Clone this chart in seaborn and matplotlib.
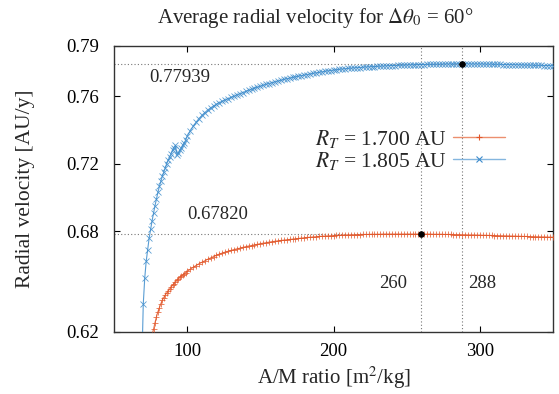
import matplotlib
matplotlib.use("Agg")
import matplotlib.pyplot as plt
from matplotlib.lines import Line2D
import numpy as np
import pandas as pd
import seaborn as sns

# A/M ratio samples [m^2/kg]
x_dense = list(range(69, 100))
x_coarse = list(range(100, 351, 2))

# R_T = 1.805 AU (blue)
v_blue_dense = [0.600, 0.6366, 0.652, 0.662, 0.669, 0.6757, 0.681, 0.686, 0.6906, 0.695,
                0.699, 0.703, 0.7065, 0.7095, 0.7125, 0.715, 0.7175, 0.720, 0.722, 0.724,
                0.726, 0.728, 0.7295, 0.731, 0.7255, 0.7265, 0.728, 0.7295, 0.731, 0.7325,
                0.734]
v_blue_coarse = [0.7365, 0.7395, 0.7422, 0.7446, 0.7468, 0.7487, 0.7504, 0.7519, 0.7532, 0.7544,
                 0.7554, 0.7563, 0.7571, 0.7579, 0.7587, 0.7594, 0.7601, 0.7609, 0.7616, 0.7623,
                 0.7630, 0.7637, 0.7643, 0.7649, 0.7655, 0.7661, 0.7667, 0.7672, 0.7677, 0.7682,
                 0.7687, 0.7692, 0.7696, 0.7701, 0.7705, 0.7709, 0.7713, 0.7717, 0.7720, 0.7724,
                 0.7727, 0.7730, 0.7734, 0.7737, 0.7740, 0.7743, 0.7746, 0.7749, 0.7752, 0.7754,
                 0.7757, 0.7759, 0.7761, 0.7763, 0.7765, 0.7767, 0.7768, 0.7770, 0.7771, 0.7772,
                 0.7774, 0.7775, 0.7776, 0.7777, 0.7778, 0.7779, 0.7780, 0.7781, 0.7782, 0.7783,
                 0.7784, 0.7784, 0.7785, 0.7786, 0.7786, 0.7787, 0.7788, 0.7788, 0.7789, 0.7789,
                 0.7790, 0.7790, 0.7791, 0.7791, 0.7791, 0.7792, 0.7792, 0.7792, 0.7793, 0.7793,
                 0.7793, 0.7793, 0.7794, 0.7794, 0.77939, 0.7794, 0.7794, 0.7793, 0.7793, 0.7793,
                 0.7793, 0.7793, 0.7792, 0.7792, 0.7792, 0.7791, 0.7791, 0.7791, 0.7790, 0.7790,
                 0.7789, 0.7789, 0.7789, 0.7788, 0.7788, 0.7787, 0.7787, 0.7786, 0.7786, 0.7785,
                 0.7785, 0.7785, 0.7784, 0.7784, 0.7783, 0.7783]

# R_T = 1.700 AU (red), starts at x = 76
v_red_dense = [0.6185, 0.6215, 0.6255, 0.629, 0.632, 0.6345, 0.6368, 0.6389, 0.6405, 0.642,
               0.6432, 0.6443, 0.6455, 0.6467, 0.6478, 0.6488, 0.6498, 0.6507, 0.6516, 0.6524,
               0.6532, 0.6539, 0.6546, 0.6553]
v_red_coarse = [0.6560, 0.6572, 0.6584, 0.6595, 0.6605, 0.6614, 0.6623, 0.6632, 0.6640, 0.6648,
                0.6656, 0.6663, 0.6669, 0.6675, 0.6680, 0.6685, 0.6690, 0.6694, 0.6698, 0.6703,
                0.6707, 0.6711, 0.6714, 0.6718, 0.6721, 0.6725, 0.6728, 0.6731, 0.6734, 0.6737,
                0.6739, 0.6742, 0.6744, 0.6746, 0.6748, 0.6750, 0.6752, 0.6754, 0.6756, 0.6758,
                0.6760, 0.6762, 0.6763, 0.6765, 0.6766, 0.6768, 0.6769, 0.6770, 0.6771, 0.6772,
                0.6773, 0.6774, 0.6775, 0.6776, 0.6777, 0.6777, 0.6778, 0.6778, 0.6779, 0.6779,
                0.6780, 0.6780, 0.6780, 0.6781, 0.6781, 0.6781, 0.6781, 0.6782, 0.6782, 0.6782,
                0.6782, 0.6782, 0.6782, 0.6782, 0.6782, 0.6782, 0.6782, 0.6782, 0.6782, 0.6782,
                0.67820, 0.6782, 0.6782, 0.6782, 0.6781, 0.6781, 0.6781, 0.6781, 0.6780, 0.6780,
                0.6780, 0.6779, 0.6779, 0.6779, 0.6778, 0.6778, 0.6777, 0.6777, 0.6777, 0.6776,
                0.6776, 0.6775, 0.6775, 0.6774, 0.6774, 0.6773, 0.6773, 0.6772, 0.6772, 0.6771,
                0.6771, 0.6770, 0.6770, 0.6769, 0.6769, 0.6768, 0.6768, 0.6767, 0.6767, 0.6766,
                0.6766, 0.6765, 0.6765, 0.6764, 0.6764, 0.6763]

max_x = [260, 288]
max_v = [0.67820, 0.77939]
max_labels = ["0.67820", "0.77939"]
x_ticks = [100, 200, 300]
y_ticks = [0.62, 0.68, 0.72, 0.76, 0.79]
series_labels = [r"$R_T$ = 1.700 AU", r"$R_T$ = 1.805 AU"]

blue_df = pd.DataFrame({"x": x_dense + x_coarse, "v": v_blue_dense + v_blue_coarse})
red_df = pd.DataFrame({"x": list(range(76, 100)) + x_coarse, "v": v_red_dense + v_red_coarse})

sns.set_style("ticks")
plt.rcParams["font.family"] = ["Liberation Serif", "DejaVu Serif"]
plt.rcParams["mathtext.fontset"] = "stix"

red = "#e2572a"
blue = "#3d8ccc"

fig = plt.figure(figsize=(5.59, 3.94), dpi=100)
ax = fig.add_axes([114 / 559, 1 - 332 / 394, (553 - 114) / 559, (332 - 46) / 394])

# reference lines
for xm, vm in zip(max_x, max_v):
    ax.plot([xm, xm], [0.62, 0.79], ls=(0, (1, 2)), color="#777777", lw=0.8, zorder=1)
    ax.plot([50, xm], [vm, vm], ls=(0, (1, 2)), color="#777777", lw=0.8, zorder=1)

sns.lineplot(data=red_df, x="x", y="v", ax=ax, sort=False, color=red, lw=0.8,
             marker="+", markersize=5, markeredgewidth=0.6, markeredgecolor=red,
             alpha=0.85, zorder=3)
sns.lineplot(data=blue_df, x="x", y="v", ax=ax, sort=False, color=blue, lw=0.8,
             marker="x", markersize=4.5, markeredgewidth=0.6, markeredgecolor=blue,
             alpha=0.85, zorder=3)

ax.scatter(max_x, max_v, color="black", s=14, zorder=5)

fs_ann = 13.5
ax.text(74.0, 0.7710, max_labels[1], fontsize=fs_ann, va="center", ha="left")
ax.text(100.0, 0.6896, max_labels[0], fontsize=fs_ann, va="center", ha="left")
ax.text(231.0, 0.6490, str(max_x[0]), fontsize=fs_ann, va="center", ha="left")
ax.text(292.0, 0.6490, str(max_x[1]), fontsize=fs_ann, va="center", ha="left")

ax.set_xlim(50, 350)
ax.set_ylim(0.62, 0.79)
ax.set_xticks(x_ticks)
ax.set_yticks(y_ticks)
ax.set_yticklabels([f"{t:.2f}" for t in y_ticks])
ax.tick_params(direction="in", length=4, width=0.8, top=True, right=True,
               labelsize=13.5, colors="black")
ax.tick_params(axis="x", pad=8)
ax.tick_params(axis="y", pad=11)
for s in ax.spines.values():
    s.set_linewidth(1.0)
    s.set_color("#333333")

ax.set_xlabel("A/M ratio [m$^2$/kg]", fontsize=15, labelpad=3)
ax.set_ylabel("Radial velocity [AU/y]", fontsize=15.5, labelpad=22)
fig.text(315 / 559, 1 - 18 / 394, r"Average radial velocity for $\Delta\theta_0$ = 60°",
         fontsize=15, ha="center", va="center")

handles = [
    Line2D([], [], color="#ec8f6f", lw=1.0, marker="+", markersize=5,
           markeredgewidth=0.8, markeredgecolor=red),
    Line2D([], [], color="#84b6df", lw=1.0, marker="x", markersize=4.5,
           markeredgewidth=0.8, markeredgecolor=blue),
]
ax.legend(handles, series_labels, loc="center right",
          bbox_to_anchor=((505 - 114) / 439, (332 - 150) / 286),
          frameon=False, markerfirst=False, fontsize=15.5, handlelength=2.4,
          labelspacing=0.0, handletextpad=0.3, borderaxespad=0, borderpad=0)

fig.savefig("out.png", dpi=100)
